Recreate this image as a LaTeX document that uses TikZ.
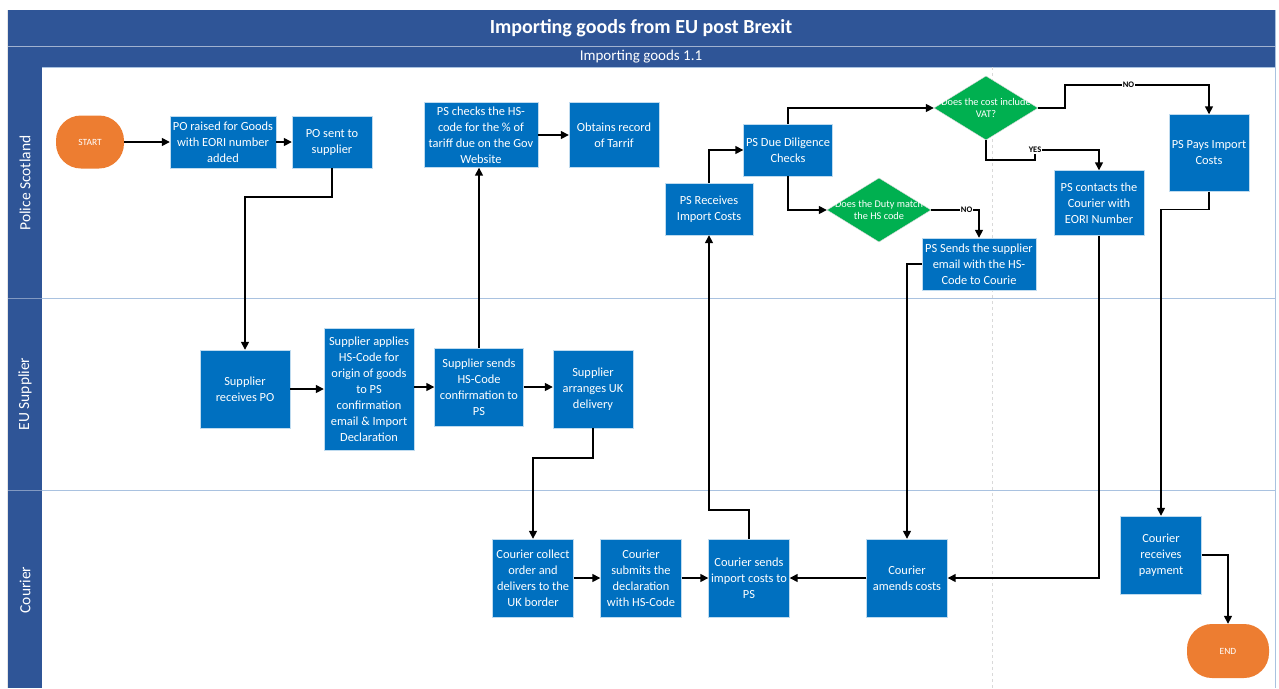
\documentclass[tikz,border=0pt]{standalone}
\usepackage{fontspec}
\setmainfont{Carlito}
\usetikzlibrary{arrows.meta,shapes.geometric}

\definecolor{headblue}{HTML}{2F5597}
\definecolor{boxblue}{HTML}{0070C0}
\definecolor{termorange}{HTML}{ED7D31}
\definecolor{decgreen}{HTML}{00B050}
\definecolor{laneline}{HTML}{A9C2E0}

\begin{document}
\begin{tikzpicture}[x=1pt,y=-1pt,
    box/.style={draw=white!75!boxblue, fill=boxblue, text=white, align=center,
      font=\fontsize{12.4}{16}\selectfont, inner sep=1pt},
    term/.style={fill=termorange, text=white, rounded corners=25pt,
      font=\fontsize{9.5}{11}\selectfont, minimum width=68, minimum height=53},
    dec/.style={diamond, fill=decgreen, draw=white!70!gray, minimum width=104,
      minimum height=64, inner sep=0pt},
    dectext/.style={text=white, align=center, font=\fontsize{10.3}{12.5}\selectfont},
    flow/.style={-{Triangle[length=8pt,width=8pt]}, line width=1.5pt},
    yn/.style={fill=white, font=\bfseries\fontsize{8.5}{9}\selectfont, inner sep=0.5pt},
    lanename/.style={rotate=90, text=white, font=\fontsize{15.5}{18}\selectfont}]
  \useasboundingbox (0,0) rectangle (1279,688);

  % swimlane frame
  \fill[headblue] (8,10) rectangle (1275,67);
  \draw[white!55!headblue] (8,46.5) -- (1275,46.5);
  \fill[headblue] (8,67) rectangle (42,688);
  \draw[white!40!headblue] (8,298) -- (42,298) (8,490) -- (42,490);
  \draw[laneline] (42,67.5) -- (1275,67.5);
  \draw[laneline] (42,298) -- (1275,298);
  \draw[laneline] (42,490) -- (1275,490);
  \draw[laneline] (1275,10) -- (1275,688);
  \draw[gray!20] (7.5,10) -- (7.5,688);
  \draw[gray!30, dashed, line width=1pt] (992,67) -- (992,688);

  \node[text=white, font=\bfseries\fontsize{20}{24}\selectfont] (title) at (641,28) {Importing goods from EU post Brexit};
  \node[text=white, font=\fontsize{15}{17}\selectfont] (subtitle) at (641,57) {Importing goods 1.1};
  \node[lanename] (lanepolice) at (25,183) {Police Scotland};
  \node[lanename] (lanesupplier) at (25,394) {EU Supplier};
  \node[lanename] (lanecourier) at (25,590) {Courier};

  % Police Scotland
  \node[term] (start) at (90,142) {START};
  \node[box, minimum width=106, minimum height=52] (po) at (223,142) {PO raised for Goods\\with EORI number\\added};
  \node[box, minimum width=80, minimum height=52] (posent) at (332,142) {PO sent to\\supplier};
  \node[box, minimum width=114, minimum height=65] (check) at (481,135) {PS checks the HS-\\code for the \% of\\tariff due on the Gov\\Website};
  \node[box, minimum width=90, minimum height=65] (tariff) at (614,135) {Obtains record\\of Tarrif};
  \node[box, minimum width=88, minimum height=52] (receive) at (709,209) {PS Receives\\Import Costs};
  \node[box, minimum width=89, minimum height=52] (diligence) at (788,150) {PS Due Diligence\\Checks};
  \node[dec, label={[dectext]center:Does the cost include\\VAT?}] (vat) at (986,108) {};
  \node[dec, label={[dectext]center:Does the Duty match\\the HS code}] (duty) at (879,210) {};
  \node[box, minimum width=114, minimum height=52] (sendmail) at (979,264) {PS Sends the supplier\\email with the HS-\\Code to Courie};
  \node[box, minimum width=90, minimum height=65] (contact) at (1099,203) {PS contacts the\\Courier with\\EORI Number};
  \node[box, minimum width=80, minimum height=77] (pays) at (1209,153) {PS Pays Import\\Costs};

  % EU Supplier
  \node[box, minimum width=90, minimum height=78] (supreceive) at (245,389) {Supplier\\receives PO};
  \node[box, minimum width=90, minimum height=122] (supapply) at (369,389) {Supplier applies\\HS-Code for\\origin of goods\\to PS\\confirmation\\email \& Import\\Declaration};
  \node[box, minimum width=89, minimum height=78] (supsend) at (479,387) {Supplier sends\\HS-Code\\confirmation to\\PS};
  \node[box, minimum width=80, minimum height=78] (suparrange) at (593,389) {Supplier\\arranges UK\\delivery};

  % Courier
  \node[box, minimum width=81, minimum height=78] (collect) at (533,578) {Courier collect\\order and\\delivers to the\\UK border};
  \node[box, minimum width=81, minimum height=78] (submit) at (641,578) {Courier\\submits the\\declaration\\with HS-Code};
  \node[box, minimum width=81, minimum height=78] (csend) at (749,578) {Courier sends\\import costs to\\PS};
  \node[box, minimum width=81, minimum height=78] (amend) at (907,578) {Courier\\amends costs};
  \node[box, minimum width=81, minimum height=78] (payment) at (1161,555) {Courier\\receives\\payment};
  \node[term, minimum width=82, minimum height=54] (end) at (1228,651) {END};

  % connectors
  \draw[flow] (start) -- (po);
  \draw[flow] (po) -- (posent);
  \draw[flow] (posent.south) -- ++(0,29) -| (supreceive.north);
  \draw[flow] (supreceive) -- (supapply);
  \draw[flow] (supapply.east |- supsend) -- (supsend);
  \draw[flow] (supsend.north) -- (supsend.north |- check.south);
  \draw[flow] (check) -- (tariff);
  \draw[flow] (supsend.east) -- (supsend.east -| suparrange.west);
  \draw[flow] (suparrange.south) -- ++(0,30) -| (collect.north);
  \draw[flow] (collect) -- (submit);
  \draw[flow] (submit) -- (csend);
  \draw[flow] (csend.north) -- ++(0,-29) -| (receive.south);
  \draw[flow] (receive.north) |- (diligence.west);
  \draw[flow] (diligence.north) |- (vat.west);
  \draw[flow] (diligence.south) |- (duty.west);
  \draw[flow] (duty.east) -| node[yn, pos=0.37] {NO} (sendmail.north);
  \draw[flow] (vat.east) -- ++(27,0) -- ++(0,-23) -| node[yn, pos=0.22] {NO} (pays.north);
  \draw[flow] (vat.south) -- ++(0,20) -- ++(49,0) -- ++(0,-10) node[yn] {YES} -| (contact.north);
  \draw[flow] (sendmail.west) -| (amend.north);
  \draw[flow] (contact.south) |- (amend.east);
  \draw[flow] (amend) -- (csend);
  \draw[flow] (pays.south) -- ++(0,18) -| (payment.north);
  \draw[flow] (payment.east) -| (end.north);
\end{tikzpicture}
\end{document}
